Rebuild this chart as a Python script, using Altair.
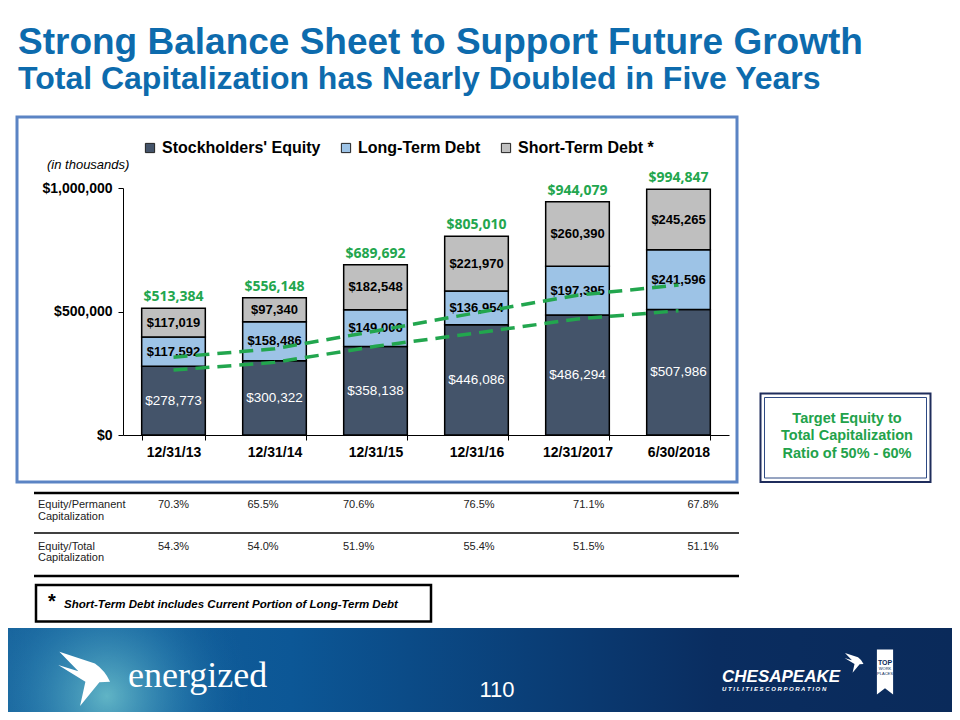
import altair as alt
import pandas as pd

# ---------------- data ----------------
CATEGORIES = ["12/31/13", "12/31/14", "12/31/15", "12/31/16", "12/31/2017", "6/30/2018"]
SERIES = ["Stockholders' Equity", "Long-Term Debt", "Short-Term Debt *"]
EQUITY = [278773, 300322, 358138, 446086, 486294, 507986]
LONG_TERM_DEBT = [117592, 158486, 149006, 136954, 197395, 241596]
SHORT_TERM_DEBT = [117019, 97340, 182548, 221970, 260390, 245265]
TOTALS = [513384, 556148, 689692, 805010, 944079, 994847]
TREND_UPPER = [315000, 349000, 421000, 495000, 566000, 607000]
TREND_LOWER = [263000, 294000, 359000, 413000, 470000, 503000]
EQ_PERMANENT = [0.703, 0.655, 0.706, 0.765, 0.711, 0.678]
EQ_TOTAL = [0.543, 0.540, 0.519, 0.554, 0.515, 0.511]
Y_TICKS = [0, 500000, 1000000]

# ---------------- styles / layout ----------------
COLORS = ["#44546A", "#9DC3E6", "#BFBFBF"]
GREEN = "#22A64E"
TITLE_BLUE = "#0D6BAD"
FONT = "Liberation Sans"
W, H = 944, 704
X_RANGE = [115, 721]
Y_RANGE = [427, 180]
TABLE_COL_X = [165.5, 255, 350.6, 471, 580.7, 695]

# ---------------- tables built from the arrays ----------------
rows = []
for i, c in enumerate(CATEGORIES):
    vals = [EQUITY[i], LONG_TERM_DEBT[i], SHORT_TERM_DEBT[i]]
    base = 0
    for j, s in enumerate(SERIES):
        rows.append({"cat": c, "series": s, "value": vals[j], "order": j,
                     "mid": base + vals[j] / 2})
        base += vals[j]
bars_df = pd.DataFrame(rows)
totals_df = pd.DataFrame({"cat": CATEGORIES, "total": TOTALS})
lines_df = pd.DataFrame(
    [{"cat": c, "v": v, "line": "upper"} for c, v in zip(CATEGORIES, TREND_UPPER)]
    + [{"cat": c, "v": v, "line": "lower"} for c, v in zip(CATEGORIES, TREND_LOWER)]
)
table_df = pd.DataFrame({"idx": list(range(len(CATEGORIES))), "cat": CATEGORIES,
                         "perm": EQ_PERMANENT, "tot": EQ_TOTAL})
one = pd.DataFrame({"k": [0]})

X_SCALE = alt.Scale(domain=CATEGORIES, range=X_RANGE, paddingInner=0.37, paddingOuter=0.185)
Y_SCALE = alt.Scale(domain=[0, 1000000], range=Y_RANGE, nice=False, zero=True)
Y_AXIS = alt.Axis(values=Y_TICKS, format="$,.0f", offset=-X_RANGE[0], tickSize=5,
                  labelPadding=6, labelFont=FONT, labelFontSize=14, labelFontWeight="bold",
                  labelColor="black", domainColor="black", tickColor="black", grid=False,
                  title=None)
X_AXIS = alt.Axis(offset=Y_RANGE[0] - H, tickBand="extent", labelAngle=0, labelFont=FONT,
                  labelFontSize=14, labelFontWeight="bold", labelColor="black",
                  labelPadding=5, tickSize=5, domainColor="black", tickColor="black",
                  title=None, grid=False)


def txt(text, x, y, **kw):
    return alt.Chart(one).mark_text(text=text, **kw).encode(x=alt.value(x), y=alt.value(y))


def box(x, x2, y, y2, **kw):
    return alt.Chart(one).mark_rect(**kw).encode(
        x=alt.value(x), x2=alt.value(x2), y=alt.value(y), y2=alt.value(y2))


def hrule(x, x2, y, **kw):
    return alt.Chart(one).mark_rule(**kw).encode(x=alt.value(x), x2=alt.value(x2), y=alt.value(y))


def shape(path, x, y, size, color="white"):
    return alt.Chart(one).mark_point(shape=path, filled=True, fill=color, size=size,
                                     strokeOpacity=0, opacity=1).encode(
        x=alt.value(x), y=alt.value(y))


layers = []

# bottom band
band_grad = alt.Gradient(
    gradient="linear", x1=0, x2=1, y1=0, y2=0,
    stops=[alt.GradientStop(color="#17639C", offset=0),
           alt.GradientStop(color="#0C5796", offset=0.3),
           alt.GradientStop(color="#0A3F78", offset=0.55),
           alt.GradientStop(color="#0A2D60", offset=0.75),
           alt.GradientStop(color="#0A2A5A", offset=1)])
layers.append(box(0, W, 620, H, fill=band_grad, strokeOpacity=0))
glow = alt.Gradient(
    gradient="radial", x1=0.38, y1=0.6, r1=0, x2=0.38, y2=0.6, r2=0.55,
    stops=[alt.GradientStop(color="rgba(110,195,205,0.85)", offset=0),
           alt.GradientStop(color="rgba(60,150,190,0.35)", offset=0.55),
           alt.GradientStop(color="rgba(20,100,160,0)", offset=1)])
layers.append(box(0, 260, 620, H, fill=glow, strokeOpacity=0))

BIRD = ("M-0.88,-0.97 L0.39,-0.55 Q0.75,-0.3 0.93,0.1 L0.55,0.12 L-0.14,0.96 "
        "L0.05,0.1 L-0.92,-0.5 L-0.2,-0.28 Z")
layers.append(shape(BIRD, 76, 671, 3136))
layers.append(txt("energized", 120, 679, font="Liberation Serif", fontSize=36, color="white",
                  align="left", baseline="alphabetic"))
layers.append(txt("110", 489, 682, font=FONT, fontSize=22, color="white", align="center",
                  baseline="middle"))
layers.append(txt("CHESAPEAKE", 714, 669, font=FONT, fontSize=17, fontWeight="bold",
                  fontStyle="italic", color="white", align="left", baseline="middle"))
layers.append(txt("U T I L I T I E S   C O R P O R A T I O N", 714, 681, font=FONT,
                  fontSize=6, fontWeight="bold", fontStyle="italic", color="white",
                  align="left", baseline="middle"))
layers.append(shape(BIRD, 846, 655, 420))
RIBBON = "M-0.36,-1 L0.36,-1 L0.36,1 L0,0.72 L-0.36,1 Z"
layers.append(shape(RIBBON, 877, 664, 2025))
layers.append(txt("TOP", 877, 655, font=FONT, fontSize=7, fontWeight="bold", color="#0A2A5A",
                  align="center", baseline="middle"))
layers.append(txt("WORK", 877, 661, font=FONT, fontSize=4, color="#0A2A5A", align="center",
                  baseline="middle"))
layers.append(txt("PLACES", 877, 665.5, font=FONT, fontSize=4, color="#0A2A5A", align="center",
                  baseline="middle"))

# titles
layers.append(txt("Strong Balance Sheet to Support Future Growth", 10, 46, font=FONT,
                  fontSize=37, fontWeight="bold", color=TITLE_BLUE, align="left",
                  baseline="alphabetic"))
layers.append(txt("Total Capitalization has Nearly Doubled in Five Years", 10, 81, font=FONT,
                  fontSize=32, fontWeight="bold", color=TITLE_BLUE, align="left",
                  baseline="alphabetic"))

# chart frame
layers.append(box(9, 729, 109, 474, fill="white", fillOpacity=0, stroke="#5B84C4",
                  strokeWidth=3))
layers.append(txt("(in thousands)", 39, 157, font=FONT, fontSize=13, fontStyle="italic",
                  color="black", align="left", baseline="middle"))

# bars
bars = alt.Chart(bars_df).mark_bar(stroke="black", strokeWidth=1.5).encode(
    x=alt.X("cat:N", scale=X_SCALE, axis=X_AXIS, sort=CATEGORIES),
    y=alt.Y("value:Q", stack="zero", scale=Y_SCALE, axis=Y_AXIS),
    order=alt.Order("order:Q", sort="ascending"),
    color=alt.Color("series:N", scale=alt.Scale(domain=SERIES, range=COLORS),
                    legend=alt.Legend(orient="none", legendX=134, legendY=132,
                                      direction="horizontal", title=None,
                                      symbolType="square", symbolSize=85,
                                      symbolStrokeColor="#222", symbolStrokeWidth=1,
                                      labelFont=FONT, labelFontSize=16,
                                      labelFontWeight="bold", labelColor="black",
                                      columnPadding=17, labelOffset=4, padding=0)),
)
layers.append(bars)

seg_white = alt.Chart(bars_df).transform_filter(alt.datum.order == 0).mark_text(
    font=FONT, fontSize=13.5, color="white", baseline="middle").encode(
    x=alt.X("cat:N", scale=X_SCALE, axis=None, sort=CATEGORIES),
    y=alt.Y("mid:Q", scale=Y_SCALE, axis=Y_AXIS),
    text=alt.Text("value:Q", format="$,.0f"))
seg_black = alt.Chart(bars_df).transform_filter(alt.datum.order > 0).mark_text(
    font=FONT, fontSize=13, fontWeight="bold", color="black", baseline="middle").encode(
    x=alt.X("cat:N", scale=X_SCALE, axis=None, sort=CATEGORIES),
    y=alt.Y("mid:Q", scale=Y_SCALE, axis=Y_AXIS),
    text=alt.Text("value:Q", format="$,.0f"))
layers += [seg_white, seg_black]

trend = alt.Chart(lines_df).mark_line(color=GREEN, strokeWidth=3.5, strokeDash=[14, 8]).encode(
    x=alt.X("cat:N", scale=X_SCALE, axis=None, sort=CATEGORIES),
    y=alt.Y("v:Q", scale=Y_SCALE, axis=Y_AXIS),
    detail="line:N")
layers.append(trend)

tot = alt.Chart(totals_df).mark_text(font="Open Sans", fontSize=14, fontWeight="bold",
                                     color=GREEN, baseline="middle", dy=-11).encode(
    x=alt.X("cat:N", scale=X_SCALE, axis=None, sort=CATEGORIES),
    y=alt.Y("total:Q", scale=Y_SCALE, axis=Y_AXIS),
    text=alt.Text("total:Q", format="$,.0f"))
layers.append(tot)

# table
layers.append(hrule(26, 731, 485, color="black", strokeWidth=2.5))
layers.append(hrule(26, 731, 525, color="black", strokeWidth=1.5))
layers.append(hrule(26, 731, 568, color="black", strokeWidth=2.5))
for t, y in [("Equity/Permanent", 497), ("Capitalization", 509),
             ("Equity/Total", 539), ("Capitalization", 550)]:
    layers.append(txt(t, 30, y, font=FONT, fontSize=11, color="#222", align="left",
                      baseline="middle"))
TX = alt.Scale(domain=list(range(len(CATEGORIES))), range=TABLE_COL_X, zero=False, nice=False)
for field, y in [("perm", 497), ("tot", 539)]:
    layers.append(alt.Chart(table_df).mark_text(font=FONT, fontSize=11, color="#222",
                                                baseline="middle").encode(
        x=alt.X("idx:Q", scale=TX, axis=None),
        y=alt.value(y),
        text=alt.Text(f"{field}:Q", format=".1%")))

# footnote
layers.append(box(28, 423, 577, 613.5, fill="white", fillOpacity=0, stroke="black",
                  strokeWidth=2.5))
layers.append(txt("*", 40, 594, font=FONT, fontSize=20, fontWeight="bold", color="black",
                  align="left", baseline="middle"))
layers.append(txt("Short-Term Debt includes Current Portion of Long-Term Debt", 56, 597,
                  font=FONT, fontSize=11.5, fontWeight="bold", fontStyle="italic",
                  color="black", align="left", baseline="middle"))

# target box
layers.append(box(752.5, 922.5, 385.5, 474, fill="white", fillOpacity=0, stroke="#1F2D5C",
                  strokeWidth=2))
layers.append(box(756.5, 918.5, 389.5, 470, fill="white", fillOpacity=0, stroke="#2E4A84",
                  strokeWidth=1))
for t, y in [("Target Equity to", 410.5), ("Total Capitalization", 428),
             ("Ratio of 50% - 60%", 446)]:
    layers.append(txt(t, 839, y, font=FONT, fontSize=14.5, fontWeight="bold", color="#22A24A",
                      align="center", baseline="middle"))

chart = alt.layer(*layers).resolve_scale(x="independent").properties(
    width=W, height=H, autosize=alt.AutoSizeParams(type="none"), padding=0,
    background="white"
).configure_view(stroke=None)

chart.save("out.html", embed_options={"renderer": "svg", "actions": False})
